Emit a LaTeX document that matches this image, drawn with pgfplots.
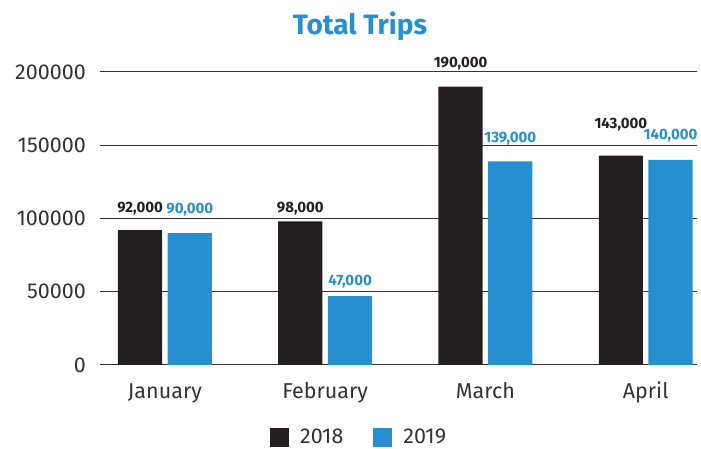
\documentclass[border=0pt]{standalone}
\usepackage{pgfplots}
\pgfplotsset{compat=1.18}
\usepackage{pgfplotstable}
\usepackage{fontspec}
\setmainfont{Fira Sans}
\definecolor{myblack}{HTML}{231F20}
\definecolor{myblue}{HTML}{258FD0}
\definecolor{txt}{HTML}{333333}

\pgfplotstableread{
x y off
0 92000 18
1 98000 9
2 190000 19
3 143000 27
}\dataA
\pgfplotstableread{
x y off
0 90000 20
1 47000 11
2 139000 19
3 140000 20
}\dataB

\begin{document}
\begin{tikzpicture}
\useasboundingbox (-100pt,-84pt) rectangle (601pt,365pt);
\begin{axis}[
  at={(0pt,0pt)}, anchor=south west,
  scale only axis,
  width=597pt, height=293pt,
  xmin=-0.405, xmax=3.32,
  ymin=0, ymax=200000,
  ybar, bar width=0.276,
  clip=false,
  axis line style={draw=none},
  major tick length=0pt,
  xtick={0,1,2,3},
  xticklabels={January,February,March,April},
  ytick={0,50000,100000,150000,200000},
  scaled y ticks=false,
  /pgf/number format/assume math mode=true,
  yticklabel={\pgfmathprintnumber[fixed,precision=0,1000 sep={}]{\tick}},
  ymajorgrids,
  grid style={line width=1pt, color=txt},
  yticklabel style={anchor=east, inner sep=0pt, xshift=-14pt, text=txt, font=\fontsize{21.5}{24}\selectfont},
  xticklabel style={anchor=base, inner sep=0pt, yshift=-34pt, text=txt, font=\fontsize{21.5}{24}\selectfont},
  nodes near coords={\pgfmathprintnumber[fixed,precision=0,1000 sep={,}]{\pgfplotspointmeta}},
  visualization depends on={\thisrow{off}\as\myoff},
  every node near coord/.append style={anchor=base, inner sep=0pt, yshift=\myoff pt, font=\fontsize{15}{18}\selectfont\bfseries},
  legend columns=2,
  legend style={at={(0.434,-0.246)}, anchor=center, draw=none, fill=none,
    font=\fontsize{21.5}{24}\selectfont, text=txt,
    /tikz/every odd column/.append style={column sep=9pt},
    /tikz/every even column/.append style={column sep=28pt}},
  legend image code/.code={\fill[#1] (0pt,-9.5pt) rectangle (19pt,9.5pt);},
]
\addplot[fill=myblack, draw=none, bar shift=-0.155, every node near coord/.append style={text=myblack}] table[x=x,y=y] {\dataA};
\addplot[fill=myblue, draw=none, bar shift=0.155, every node near coord/.append style={text=myblue}] table[x=x,y=y] {\dataB};
\legend{2018,2019}
\end{axis}
\node[anchor=base, text=myblue, font=\fontsize{28}{32}\selectfont\bfseries] at (260pt,330pt) {Total Trips};
\end{tikzpicture}
\end{document}
